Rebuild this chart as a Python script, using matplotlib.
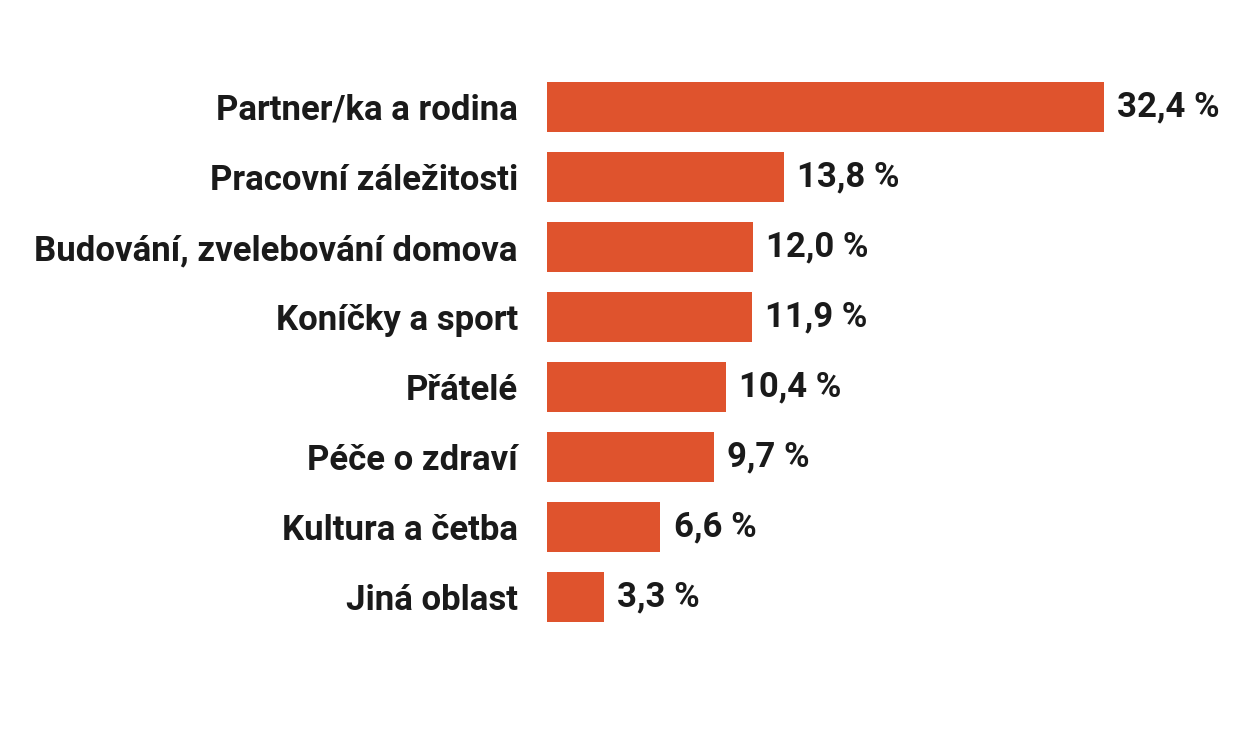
import matplotlib.pyplot as plt

categories = ["Partner/ka a rodina", "Pracovní záležitosti", "Budování, zvelebování domova",
              "Koníčky a sport", "Přátelé", "Péče o zdraví", "Kultura a četba", "Jiná oblast"]
values = [32.4, 13.8, 12.0, 11.9, 10.4, 9.7, 6.6, 3.3]
labels = ["32,4 %", "13,8 %", "12,0 %", "11,9 %", "10,4 %", "9,7 %", "6,6 %", "3,3 %"]

plt.rcParams['font.family'] = ['Roboto', 'DejaVu Sans']

fig = plt.figure(figsize=(12.38, 7.32), dpi=100)
ax = fig.add_axes([547/1238, 1 - 632/732, (1104 - 547)/1238, 560/732])

pos = list(range(len(categories)))
ax.barh(pos, values, height=0.714, color='#DF532D')
ax.set_xlim(0, 32.4)
ax.set_ylim(7.5, -0.5)

ax.set_yticks(pos)
ax.set_yticklabels(categories, fontsize=25, fontweight='bold', color='#1a1a1a')
ax.tick_params(axis='y', length=0, pad=21)
ax.set_xticks([])
for s in ax.spines.values():
    s.set_visible(False)

for p, v, t in zip(pos, values, labels):
    ax.annotate(t, (v, p), xytext=(9.5, 0), textcoords='offset points',
                va='center', ha='left', fontsize=25, fontweight='bold',
                color='#1a1a1a', annotation_clip=False)

fig.savefig('out.png', dpi=100)
